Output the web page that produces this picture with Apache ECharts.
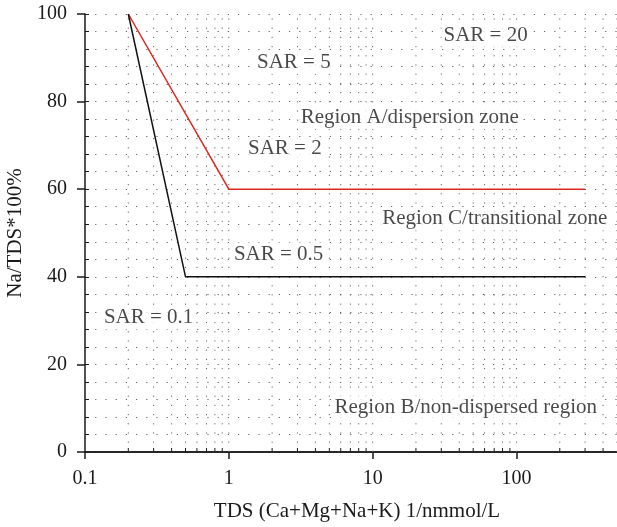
<!DOCTYPE html>
<html>
<head>
<meta charset="utf-8">
<script src="https://cdn.jsdelivr.net/npm/echarts@6/dist/echarts.min.js"></script>
<style>
  html, body { margin: 0; padding: 0; background: #fff; }
  #chart { width: 617px; height: 527px; }
</style>
</head>
<body>
<div id="chart"></div>
<script>
// SAR boundary lines (x: TDS on a log scale, y: Na/TDS percentage)
const sar2LineX = [0.2, 1, 300];
const sar2LineY = [100, 60, 60];
const sar05LineX = [0.2, 0.5, 300];
const sar05LineY = [100, 40, 40];

// Axis ticks
const xTickValues = [0.1, 1, 10, 100];
const xGridValues = [0.2, 0.3, 0.4, 0.5, 0.6, 0.7, 0.8, 0.9, 1,
  2, 3, 4, 5, 6, 7, 8, 9, 10,
  20, 30, 40, 50, 60, 70, 80, 90, 100,
  200, 300, 400, 500];
const xMinorTickValues = [0.2, 0.3, 0.4, 0.5, 0.6, 0.7, 0.8, 0.9,
  2, 3, 4, 5, 6, 7, 8, 9,
  20, 30, 40, 50, 60, 70, 80, 90,
  200, 300, 400];
const yTickValues = [0, 20, 40, 60, 80, 100];

// Zone / SAR annotations
const noteTexts = ['SAR = 20', 'SAR = 5', 'Region A/dispersion zone', 'SAR = 2',
  'Region C/transitional zone', 'SAR = 0.5', 'SAR = 0.1', 'Region B/non-dispersed region'];
const noteX = [61, 2.83, 18.1, 2.45, 70.6, 2.22, 0.277, 44.4];
const noteY = [95, 88.9, 76.3, 69.2, 53.2, 45.2, 30.6, 10.2];

const FONT = '"Liberation Serif", "DejaVu Serif", serif';
const INK = '#1a1a1a';
const DOT = [1.2, 9];

const chart = echarts.init(document.getElementById('chart'), null, { renderer: 'canvas' });

const zip = (xs, ys) => xs.map((x, i) => [x, ys[i]]);

chart.setOption({
  animation: false,
  backgroundColor: '#fff',
  grid: { left: 85, right: 0, top: 14, bottom: 75, containLabel: false, outerBoundsMode: 'none' },
  xAxis: [{
    type: 'log', logBase: 10, min: 0.1, max: 500,
    name: 'TDS (Ca+Mg+Na+K) 1/nmmol/L',
    nameLocation: 'middle', nameGap: 49,
    nameTextStyle: { fontFamily: FONT, fontSize: 21, color: INK, padding: [0, 0, 0, 12] },
    axisLine: { show: true, lineStyle: { color: INK, width: 1.5 } },
    axisTick: { show: true, inside: false, length: 7, customValues: xTickValues, lineStyle: { color: INK, width: 1.5 } },
    axisLabel: { customValues: xTickValues, margin: 17, fontFamily: FONT, fontSize: 20, color: INK },
    splitLine: { show: false },
    minorTick: { show: false }
  }, {
    type: 'log', logBase: 10, min: 0.1, max: 500, position: 'top',
    axisLine: { show: true, lineStyle: { color: INK, width: 1.5 } },
    axisTick: { show: false }, axisLabel: { show: false }, splitLine: { show: false }
  }],
  yAxis: [{
    type: 'value', min: 0, max: 100, interval: 20,
    name: 'Na/TDS*100%',
    nameLocation: 'middle', nameGap: 54,
    nameTextStyle: { fontFamily: FONT, fontSize: 21, color: INK },
    axisLine: { show: true, lineStyle: { color: INK, width: 1.5 } },
    axisTick: { show: true, inside: false, length: 8, lineStyle: { color: INK, width: 1.5 } },
    axisLabel: { margin: 18, fontFamily: FONT, fontSize: 20, color: INK },
    splitLine: { show: false }
  }, {
    type: 'value', min: 0, max: 100, interval: 4, position: 'left',
    axisLine: { show: false },
    axisTick: { show: true, inside: true, length: 4, lineStyle: { color: INK, width: 1 } },
    axisLabel: { show: false },
    splitLine: { show: true, lineStyle: { color: '#666', width: 1, type: DOT } }
  }],
  series: [
    {
      // vertical dotted grid lines and inward minor ticks on the log axis
      type: 'custom',
      silent: true,
      z: 1,
      data: xGridValues.map(v => [v, xMinorTickValues.indexOf(v) >= 0 ? 1 : 0]),
      encode: { x: 0 },
      renderItem: function (params, api) {
        const v = api.value(0);
        const bottom = api.coord([v, 0]);
        const top = api.coord([v, 100]);
        const children = [{
          type: 'line',
          shape: { x1: bottom[0], y1: bottom[1], x2: top[0], y2: top[1] },
          style: { stroke: '#666', lineWidth: 1, lineDash: [1.2, 8] }
        }];
        if (api.value(1) === 1) {
          children.push({
            type: 'line',
            shape: { x1: bottom[0], y1: bottom[1], x2: bottom[0], y2: bottom[1] - 4 },
            style: { stroke: INK, lineWidth: 1 }
          });
        }
        return { type: 'group', children: children };
      }
    },
    {
      name: 'SAR = 2 boundary',
      type: 'line',
      data: zip(sar2LineX, sar2LineY),
      symbol: 'none',
      lineStyle: { color: '#e0251c', width: 1.5 },
      z: 3
    },
    {
      name: 'SAR = 0.5 boundary',
      type: 'line',
      data: zip(sar05LineX, sar05LineY),
      symbol: 'none',
      lineStyle: { color: '#111', width: 1.5 },
      z: 3
    },
    {
      type: 'scatter',
      symbolSize: 0,
      silent: true,
      z: 4,
      data: noteTexts.map((t, i) => ({ value: [noteX[i], noteY[i]], name: t })),
      label: {
        show: true,
        position: 'inside',
        formatter: p => p.name,
        fontFamily: FONT,
        fontSize: 21,
        color: INK,
        backgroundColor: '#fff',
        padding: [1, 2]
      }
    }
  ]
});
</script>
</body>
</html>
